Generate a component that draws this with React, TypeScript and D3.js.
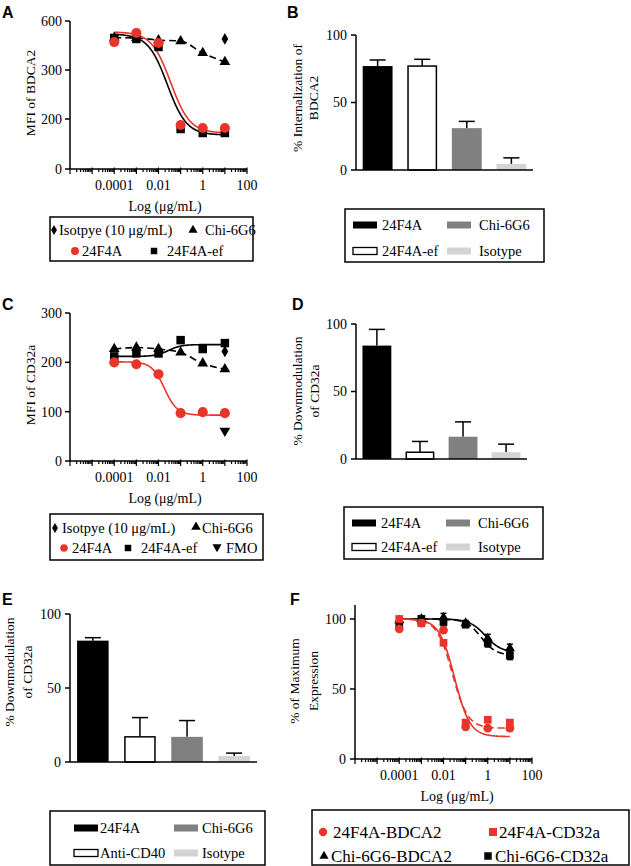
import React from "react";
import * as d3 from "d3";

// ---------- shared ----------
const concentrations = [1e-4, 1e-3, 1e-2, 1e-1, 1, 10];
const logTickValues = [1e-4, 1e-2, 1, 100];
const logTickLabels = ["0.0001", "0.01", "1", "100"];
const logDomain = [1e-6, 1e2];

// ---------- Panel A (MFI of BDCA2) ----------
const aYTicks = [0, 200, 300, 600];
const aIsotype = [490]; // at 10 µg/mL
const aIsotypeConc = [10];
const aChi6G6 = [498, 496, 483, 477, 404, 349];
const a24F4A = [471, 527, 465, 176, 164, 164];
const a24F4Aef = [496, 490, 441, 160, 144, 144];
const aFit24F4A = { start: 533, end: 144, logEC50: -1.45, hill: 1.0 };
const aFit24F4Aef = { start: 520, end: 136, logEC50: -1.6, hill: 1.0 };

// ---------- Panel B (% Internalization) ----------
const bCategories = ["24F4A", "24F4A-ef", "Chi-6G6", "Isotype"];
const bValues = [77, 77, 31, 4.5];
const bErrors = [4.5, 5, 5, 4.5];
const bYTicks = [0, 50, 100];

// ---------- Panel C (MFI of CD32a) ----------
const cYTicks = [0, 100, 200, 300];
const cIsotype = [222];
const cIsotypeConc = [10];
const cFMO = [61];
const cFMOConc = [10];
const cChi6G6 = [227, 230, 227, 220, 198, 186];
const c24F4A = [200, 196, 176, 97, 99, 97];
const c24F4Aef = [212, 218, 218, 245, 227, 239];
const cFit24F4A = { start: 201, end: 93, logEC50: -1.73, hill: 1.5 };
const cFit24F4Aef = { start: 212, end: 236, logEC50: -1.55, hill: 1.5 };

// ---------- Panel D (% Downmodulation CD32a) ----------
const dCategories = ["24F4A", "24F4A-ef", "Chi-6G6", "Isotype"];
const dValues = [84, 5, 16.5, 5];
const dErrors = [12, 8, 11, 6];

// ---------- Panel E (% Downmodulation CD32a) ----------
const eCategories = ["24F4A", "Anti-CD40", "Chi-6G6", "Isotype"];
const eValues = [82, 17, 17, 4];
const eErrors = [2, 13, 11, 2];

// ---------- Panel F (% of Maximum Expression) ----------
const fYTicks = [0, 50, 100];
const f24F4A_BDCA2 = [93, 97, 92, 23, 22, 22];
const f24F4A_CD32a = [100, 97, 83, 26, 28, 26];
const fChi_BDCA2 = [99, 100, 101, 97, 86, 79];
const fChi_CD32a = [96, 100, 98, 96, 83, 74];
const fChiErr = [2, 2, 3, 2, 3, 3];
const fFit24F4A_BDCA2 = { start: 100, end: 16, logEC50: -1.5, hill: 1.25 };
const fFit24F4A_CD32a = { start: 100, end: 22, logEC50: -1.6, hill: 1.25 };
const fFitChi_BDCA2 = { start: 100, end: 76, logEC50: -0.1, hill: 1.2 };
const fFitChi_CD32a = { start: 100, end: 74, logEC50: -0.3, hill: 1.3 };

// ---------- styles ----------
const RED = "#e8352b";
const GRAY = "#808080";
const LIGHT = "#d4d4d4";
const SERIF = "'Liberation Serif', 'Times New Roman', serif";
const SANS = "'Liberation Sans', Arial, sans-serif";
const AX = 1.5;

const barFill: Record<string, string> = {
  "24F4A": "#000",
  "24F4A-ef": "#fff",
  "Anti-CD40": "#fff",
  "Chi-6G6": GRAY,
  Isotype: LIGHT,
};

function sym(type: any, size: number) {
  return d3.symbol().type(type).size(size)() as string;
}

function fitPath(x: any, y: any, p: any, from = 1e-4, to = 10) {
  const l0 = Math.log10(from), l1 = Math.log10(to);
  const logs = d3.range(l0, l1 + 1e-9, 0.02);
  const ys = y(p.start), ye = y(p.end);
  const pts = logs.map((l) => {
    const g = 1 / (1 + Math.pow(10, p.hill * (p.logEC50 - l)));
    return [x(Math.pow(10, l)), ys + (ye - ys) * g] as [number, number];
  });
  return d3.line()(pts) as string;
}

function LogXAxis({ x, y0, title, titleX }: any) {
  const [d0, d1] = x.domain();
  const e0 = Math.round(Math.log10(d0)), e1 = Math.round(Math.log10(d1));
  const ticks: { v: number; major: boolean }[] = [];
  for (let e = e0; e <= e1; e++) {
    const base = Math.pow(10, e);
    ticks.push({ v: base, major: true });
    if (e < e1) for (let m = 2; m <= 9; m++) ticks.push({ v: base * m, major: false });
  }
  const [r0, r1] = x.range();
  return (
    <g>
      <line x1={r0} x2={r1} y1={y0} y2={y0} stroke="#000" strokeWidth={AX} />
      {ticks.map((t, i) => (
        <line key={i} x1={x(t.v)} x2={x(t.v)} y1={y0 - (t.major ? 1.5 : 0)} y2={y0 + (t.major ? 5 : 3)} stroke="#000" strokeWidth={1.2} />
      ))}
      {logTickValues.map((v, i) => (
        <text key={i} x={x(v)} y={y0 + 21} textAnchor="middle" fontSize={14} fontFamily={SERIF}>
          {logTickLabels[i]}
        </text>
      ))}
      <text x={titleX} y={y0 + 42} textAnchor="middle" fontSize={14} fontFamily={SERIF}>
        {title}
      </text>
    </g>
  );
}

function YAxis({ y, x0, ticks, labelGap = 8 }: any) {
  const dom = y.domain();
  const lo = dom[0], hi = dom[dom.length - 1];
  return (
    <g>
      <line x1={x0} x2={x0} y1={y(lo)} y2={y(hi)} stroke="#000" strokeWidth={AX} />
      {ticks.map((t: number) => (
        <g key={t}>
          <line x1={x0 - 5} x2={x0} y1={y(t)} y2={y(t)} stroke="#000" strokeWidth={AX} />
          <text x={x0 - labelGap} y={y(t)} dy="0.35em" textAnchor="end" fontSize={14} fontFamily={SERIF}>
            {t}
          </text>
        </g>
      ))}
    </g>
  );
}

function YTitle({ lines, xs, cy }: any) {
  return (
    <g>
      {lines.map((l: string, i: number) => (
        <text key={i} transform={`translate(${xs[i]},${cy}) rotate(-90)`} textAnchor="middle" dy="0.35em" fontSize={13.5} fontFamily={SERIF}>
          {l}
        </text>
      ))}
    </g>
  );
}

function Letter({ x, y, t }: any) {
  return (
    <text x={x} y={y} fontSize={16} fontWeight="bold" fontFamily={SANS}>
      {t}
    </text>
  );
}

function Markers({ x, y, xs, ys, type, size, fill, rotate = 0 }: any) {
  const d = sym(type, size);
  return (
    <g>
      {ys.map((v: number, i: number) => (
        <path key={i} d={d} fill={fill} transform={`translate(${x(xs[i])},${y(v)}) rotate(${rotate})`} />
      ))}
    </g>
  );
}

function BarPanel({ cats, vals, errs, xRange, yRange, ticks, labelGap }: any) {
  const x = d3.scaleBand().domain(cats).range(xRange).paddingInner(0.33).paddingOuter(0.15);
  const y = d3.scaleLinear().domain([0, 100]).range(yRange);
  const bw = x.bandwidth();
  return (
    <g>
      {cats.map((c: string, i: number) => {
        const x0 = x(c) as number;
        const white = barFill[c] === "#fff";
        const cx = x0 + bw / 2;
        return (
          <g key={c}>
            <line x1={cx} x2={cx} y1={y(vals[i])} y2={y(vals[i] + errs[i])} stroke="#000" strokeWidth={1.5} />
            <line x1={cx - 8} x2={cx + 8} y1={y(vals[i] + errs[i])} y2={y(vals[i] + errs[i])} stroke="#000" strokeWidth={1.5} />
            <rect
              x={white ? x0 + 0.75 : x0}
              y={y(vals[i])}
              width={white ? bw - 1.5 : bw}
              height={y(0) - y(vals[i])}
              fill={barFill[c]}
              stroke={white ? "#000" : "none"}
              strokeWidth={1.5}
            />
          </g>
        );
      })}
      <line x1={xRange[0]} x2={xRange[1]} y1={y(0)} y2={y(0)} stroke="#000" strokeWidth={AX} />
      <YAxis y={y} x0={xRange[0]} ticks={ticks} labelGap={labelGap} />
    </g>
  );
}

function BarLegend({ box, rows, cols, items }: any) {
  return (
    <g>
      <rect x={box[0]} y={box[1]} width={box[2] - box[0]} height={box[3] - box[1]} fill="#fff" stroke="#000" strokeWidth={1.5} />
      {items.map((lab: string, i: number) => {
        const r = Math.floor(i / 2), c = i % 2;
        const white = barFill[lab] === "#fff";
        return (
          <g key={lab}>
            <rect
              x={cols[c][0]}
              y={rows[r] - 3.5}
              width={24}
              height={7}
              fill={barFill[lab]}
              stroke={white ? "#000" : "none"}
              strokeWidth={1.3}
            />
            <text x={cols[c][1]} y={rows[r]} dy="0.35em" fontSize={14.5} fontFamily={SERIF}>
              {lab}
            </text>
          </g>
        );
      })}
    </g>
  );
}

export default function App() {
  // ---------- A ----------
  const xA = d3.scaleLog().domain(logDomain).range([70, 247]);
  const yA = d3.scaleLinear().domain([0, 200, 300, 600]).range([169, 119, 70, 21]);
  const chiLineA = d3.line<number>().x((_, i) => xA(concentrations[i])).y((v) => yA(v)).curve(d3.curveMonotoneX)(aChi6G6) as string;

  // ---------- C ----------
  const xC = d3.scaleLog().domain(logDomain).range([70, 247]);
  const yC = d3.scaleLinear().domain([0, 300]).range([461, 313]);
  const chiLineC = d3.line<number>().x((_, i) => xC(concentrations[i])).y((v) => yC(v)).curve(d3.curveMonotoneX)(cChi6G6) as string;

  // ---------- F ----------
  const xF = d3.scaleLog().domain(logDomain).range([355, 532]);
  const yF = d3.scaleLinear().domain([0, 110]).range([759, 605]);

  return (
    <svg width={631} height={866} style={{ position: "absolute", left: 0, top: 0, background: "#fff" }}>
      <rect width={631} height={866} fill="#fff" />

      {/* ================= A ================= */}
      <Letter x={2} y={18} t="A" />
      <YTitle lines={["MFI of BDCA2"]} xs={[30]} cy={93} />
      <path d={chiLineA} fill="none" stroke="#000" strokeWidth={1.6} strokeDasharray="7,4" />
      <path d={fitPath(xA, yA, aFit24F4Aef)} fill="none" stroke="#000" strokeWidth={1.6} />
      <path d={fitPath(xA, yA, aFit24F4A)} fill="none" stroke={RED} strokeWidth={1.6} />
      <Markers x={xA} y={yA} xs={concentrations} ys={aChi6G6} type={d3.symbolTriangle} size={50} fill="#000" />
      <Markers x={xA} y={yA} xs={aIsotypeConc} ys={aIsotype} type={d3.symbolDiamond} size={40} fill="#000" />
      <Markers x={xA} y={yA} xs={concentrations} ys={a24F4Aef} type={d3.symbolSquare} size={72} fill="#000" />
      <Markers x={xA} y={yA} xs={concentrations} ys={a24F4A} type={d3.symbolCircle} size={80} fill={RED} />
      <LogXAxis x={xA} y0={169} title="Log (μg/mL)" titleX={165} />
      <YAxis y={yA} x0={70} ticks={aYTicks} />
      <g>
        <rect x={50} y={217} width={203} height={44} fill="#fff" stroke="#000" strokeWidth={1.5} />
        <path d={sym(d3.symbolDiamond, 30)} transform="translate(54,230)" fill="#000" />
        <text x={59} y={230} dy="0.35em" fontSize={14.5} fontFamily={SERIF}>Isotpye (10 μg/mL)</text>
        <path d={sym(d3.symbolTriangle, 36)} transform="translate(193,230)" fill="#000" />
        <text x={205} y={230} dy="0.35em" fontSize={14.5} fontFamily={SERIF}>Chi-6G6</text>
        <path d={sym(d3.symbolCircle, 50)} transform="translate(75,251)" fill={RED} />
        <text x={82} y={251} dy="0.35em" fontSize={14.5} fontFamily={SERIF}>24F4A</text>
        <path d={sym(d3.symbolSquare, 42)} transform="translate(154,251)" fill="#000" />
        <text x={167} y={251} dy="0.35em" fontSize={14.5} fontFamily={SERIF}>24F4A-ef</text>
      </g>

      {/* ================= B ================= */}
      <Letter x={287} y={18} t="B" />
      <YTitle lines={["% Internalization of", "BDCA2"]} xs={[297, 313]} cy={98} />
      <BarPanel cats={bCategories} vals={bValues} errs={bErrors} xRange={[356, 533]} yRange={[170, 35]} ticks={bYTicks} labelGap={9} />
      <BarLegend box={[345, 209, 544, 262]} rows={[225, 251]} cols={[[353, 382], [447, 479]]} items={["24F4A", "Chi-6G6", "24F4A-ef", "Isotype"]} />

      {/* ================= C ================= */}
      <Letter x={2} y={310} t="C" />
      <YTitle lines={["MFI of CD32a"]} xs={[30]} cy={385} />
      <path d={chiLineC} fill="none" stroke="#000" strokeWidth={1.6} strokeDasharray="7,4" />
      <path d={fitPath(xC, yC, cFit24F4Aef)} fill="none" stroke="#000" strokeWidth={1.6} />
      <path d={fitPath(xC, yC, cFit24F4A)} fill="none" stroke={RED} strokeWidth={1.6} />
      <Markers x={xC} y={yC} xs={concentrations} ys={cChi6G6} type={d3.symbolTriangle} size={50} fill="#000" />
      <Markers x={xC} y={yC} xs={concentrations} ys={c24F4Aef} type={d3.symbolSquare} size={72} fill="#000" />
      <Markers x={xC} y={yC} xs={cIsotypeConc} ys={cIsotype} type={d3.symbolDiamond} size={40} fill="#000" />
      <Markers x={xC} y={yC} xs={cFMOConc} ys={cFMO} type={d3.symbolTriangle} size={50} fill="#000" rotate={180} />
      <Markers x={xC} y={yC} xs={concentrations} ys={c24F4A} type={d3.symbolCircle} size={80} fill={RED} />
      <LogXAxis x={xC} y0={461} title="Log (μg/mL)" titleX={165} />
      <YAxis y={yC} x0={70} ticks={cYTicks} />
      <g>
        <rect x={50} y={514} width={213} height={46} fill="#fff" stroke="#000" strokeWidth={1.5} />
        <path d={sym(d3.symbolDiamond, 30)} transform="translate(55,528)" fill="#000" />
        <text x={62} y={528} dy="0.35em" fontSize={14.5} fontFamily={SERIF}>Isotpye (10 μg/mL)</text>
        <path d={sym(d3.symbolTriangle, 40)} transform="translate(196,527)" fill="#000" />
        <text x={202} y={528} dy="0.35em" fontSize={14.5} fontFamily={SERIF}>Chi-6G6</text>
        <path d={sym(d3.symbolCircle, 45)} transform="translate(64,548)" fill={RED} />
        <text x={72} y={548} dy="0.35em" fontSize={14.5} fontFamily={SERIF}>24F4A</text>
        <path d={sym(d3.symbolSquare, 42)} transform="translate(128,548)" fill="#000" />
        <text x={141} y={548} dy="0.35em" fontSize={14.5} fontFamily={SERIF}>24F4A-ef</text>
        <path d={sym(d3.symbolTriangle, 36)} transform="translate(217,547) rotate(180)" fill="#000" />
        <text x={226} y={548} dy="0.35em" fontSize={14.5} fontFamily={SERIF}>FMO</text>
      </g>

      {/* ================= D ================= */}
      <Letter x={292} y={310} t="D" />
      <YTitle lines={["% Downmodulation", "of CD32a"]} xs={[297, 314]} cy={391} />
      <BarPanel cats={dCategories} vals={dValues} errs={dErrors} xRange={[356, 527]} yRange={[459, 324]} ticks={bYTicks} labelGap={9} />
      <BarLegend box={[344, 507, 543, 559]} rows={[523, 547]} cols={[[352, 381], [446, 478]]} items={["24F4A", "Chi-6G6", "24F4A-ef", "Isotype"]} />

      {/* ================= E ================= */}
      <Letter x={2} y={605} t="E" />
      <YTitle lines={["% Downmodulation", "of CD32a"]} xs={[9, 27]} cy={672} />
      <BarPanel cats={eCategories} vals={eValues} errs={eErrors} xRange={[70, 257]} yRange={[762, 614]} ticks={bYTicks} labelGap={9} />
      <BarLegend box={[50, 811, 265, 865]} rows={[828, 853]} cols={[[74, 100], [174, 202]]} items={["24F4A", "Chi-6G6", "Anti-CD40", "Isotype"]} />

      {/* ================= F ================= */}
      <Letter x={290} y={605} t="F" />
      <YTitle lines={["% of Maximum", "Expression"]} xs={[294, 313]} cy={681} />
      <path d={fitPath(xF, yF, fFitChi_BDCA2)} fill="none" stroke="#000" strokeWidth={1.6} />
      <path d={fitPath(xF, yF, fFitChi_CD32a)} fill="none" stroke="#000" strokeWidth={1.6} strokeDasharray="7,4" />
      <path d={fitPath(xF, yF, fFit24F4A_BDCA2)} fill="none" stroke={RED} strokeWidth={1.6} />
      <path d={fitPath(xF, yF, fFit24F4A_CD32a)} fill="none" stroke={RED} strokeWidth={1.6} strokeDasharray="7,4" />
      {concentrations.map((c, i) => (
        <g key={i}>
          {[fChi_BDCA2[i], fChi_CD32a[i]].map((v, j) => (
            <g key={j}>
              <line x1={xF(c)} x2={xF(c)} y1={yF(v - fChiErr[i])} y2={yF(v + fChiErr[i])} stroke="#000" strokeWidth={1.5} />
              <line x1={xF(c) - 3} x2={xF(c) + 3} y1={yF(v + fChiErr[i])} y2={yF(v + fChiErr[i])} stroke="#000" strokeWidth={1.5} />
              <line x1={xF(c) - 3} x2={xF(c) + 3} y1={yF(v - fChiErr[i])} y2={yF(v - fChiErr[i])} stroke="#000" strokeWidth={1.5} />
            </g>
          ))}
        </g>
      ))}
      <Markers x={xF} y={yF} xs={concentrations} ys={fChi_BDCA2} type={d3.symbolTriangle} size={45} fill="#000" />
      <Markers x={xF} y={yF} xs={concentrations} ys={fChi_CD32a} type={d3.symbolSquare} size={60} fill="#000" />
      <Markers x={xF} y={yF} xs={concentrations} ys={f24F4A_BDCA2} type={d3.symbolCircle} size={60} fill={RED} />
      <Markers x={xF} y={yF} xs={concentrations} ys={f24F4A_CD32a} type={d3.symbolSquare} size={60} fill={RED} />
      <LogXAxis x={xF} y0={759} title="Log (μg/mL)" titleX={457} />
      <YAxis y={yF} x0={355} ticks={fYTicks} labelGap={9} />
      <g>
        <rect x={312} y={810} width={317} height={55} fill="#fff" stroke="#000" strokeWidth={1.5} />
        <path d={sym(d3.symbolCircle, 55)} transform="translate(323,832)" fill={RED} />
        <text x={333} y={832} dy="0.35em" fontSize={17} fontFamily={SERIF}>24F4A-BDCA2</text>
        <path d={sym(d3.symbolSquare, 64)} transform="translate(493,832)" fill={RED} />
        <text x={499} y={832} dy="0.35em" fontSize={17} fontFamily={SERIF}>24F4A-CD32a</text>
        <path d={sym(d3.symbolTriangle, 36)} transform="translate(324,856)" fill="#000" />
        <text x={331} y={856} dy="0.35em" fontSize={17} fontFamily={SERIF}>Chi-6G6-BDCA2</text>
        <path d={sym(d3.symbolSquare, 56)} transform="translate(488,856)" fill="#000" />
        <text x={495} y={856} dy="0.35em" fontSize={17} fontFamily={SERIF}>Chi-6G6-CD32a</text>
      </g>
    </svg>
  );
}
